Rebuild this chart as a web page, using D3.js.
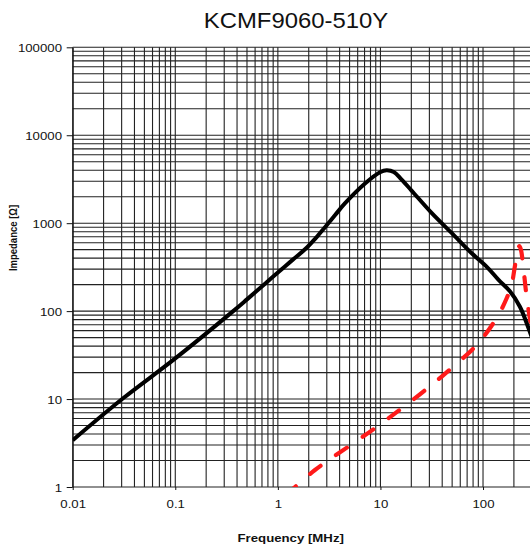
<!DOCTYPE html>
<html><head><meta charset="utf-8">
<script src="https://cdn.jsdelivr.net/npm/d3@7/dist/d3.min.js"></script>
<style>
html,body{margin:0;padding:0;background:#fff;overflow:hidden;}
svg{display:block;font-family:"Liberation Sans",Arial,sans-serif;}
</style></head>
<body>
<svg id="chart" width="530" height="552"></svg>
<script>
// ---- data ----
const title = "KCMF9060-510Y";
const xLabel = "Frequency [MHz]";
const yLabel = "Impedance [\u03A9]";
const xTickValues = [0.01, 0.1, 1, 10, 100];
const xTickLabels = ["0.01", "0.1", "1", "10", "100"];
const yTickValues = [1, 10, 100, 1000, 10000, 100000];
const yTickLabels = ["1", "10", "100", "1000", "10000", "100000"];

// black solid curve: impedance |Z|
const zFreq  = [0.01, 0.031, 0.1, 0.367, 0.5, 0.75, 1.0, 1.4, 1.84, 2.4, 2.88, 3.6, 4.5, 7.07, 9.9, 11.5, 13.5, 16, 20.1, 31.5, 49.4, 77.5, 110, 141, 183, 229, 275, 320];
const zValue = [3.4, 10.2, 29, 100, 136, 205, 275, 385, 505, 700, 900, 1230, 1675, 2826, 3800, 4000, 3820, 3150, 2350, 1310, 775, 455, 315, 228, 168, 112, 66, 40];

// red dashed curve
const rFreq  = [1.2, 1.47, 2.3, 8.8, 27.2, 77.5, 100, 141, 170, 190, 205, 218, 226, 234, 246, 262, 280, 300];
const rValue = [0.82, 1.0, 1.56, 4.65, 12.6, 36, 50, 90, 140, 200, 330, 480, 548, 500, 333, 170, 97, 58];

// ---- scales ----
const x = d3.scaleLog().domain([0.01, 1000]).range([72.7, 585.6]);
const y = d3.scaleLog().domain([1, 100000]).range([487, 47.3]);
const SX = 1.14; // horizontal stretch of the original picture

const svg = d3.select("#chart");

svg.append("defs").append("clipPath").attr("id", "plotclip")
  .append("rect").attr("x", x(0.01)).attr("y", y(100000))
  .attr("width", x(1000) - x(0.01)).attr("height", y(1) - y(100000));

// grid values
const xGrid = [];
[0.01, 0.1, 1, 10, 100].forEach(d => { for (let k = 1; k <= 9; k++) xGrid.push(k * d); });
xGrid.push(1000);
const yGrid = [];
[1, 10, 100, 1000, 10000].forEach(d => { for (let k = 1; k <= 9; k++) yGrid.push(k * d); });
yGrid.push(100000);

const grid = svg.append("g").attr("stroke", "#222").attr("stroke-width", 1.1);
grid.selectAll("line.v").data(xGrid).join("line").attr("class", "v")
  .attr("x1", d => x(d)).attr("x2", d => x(d))
  .attr("y1", y(100000)).attr("y2", y(1));
grid.selectAll("line.h").data(yGrid).join("line").attr("class", "h")
  .attr("x1", x(0.01)).attr("x2", x(1000))
  .attr("y1", d => y(d)).attr("y2", d => y(d));

// axes
const yAxis = svg.append("g").attr("transform", `translate(${x(0.01)},0)`)
  .call(d3.axisLeft(y).tickValues(yTickValues).tickFormat((d, i) => yTickLabels[i]).tickSize(6).tickSizeOuter(0));
yAxis.select(".domain").attr("stroke", "#111");
yAxis.selectAll("line").attr("stroke", "#111");
yAxis.selectAll("text")
  .attr("x", null).attr("dy", null)
  .attr("transform", `translate(-10.7,4.2) scale(${SX},1)`)
  .attr("font-size", 11.6).attr("fill", "#111")
  .attr("font-family", "'Liberation Sans', Arial, sans-serif");

const xAxis = svg.append("g").attr("transform", `translate(0,${y(1)})`)
  .call(d3.axisBottom(x).tickValues(xTickValues).tickFormat((d, i) => xTickLabels[i]).tickSize(3).tickSizeOuter(0));
xAxis.select(".domain").remove();
xAxis.selectAll("line").attr("stroke", "#111");
xAxis.selectAll("text")
  .attr("y", null).attr("dy", null)
  .attr("transform", `translate(0,20.5) scale(${SX},1)`)
  .attr("font-size", 11.6).attr("fill", "#111")
  .attr("font-family", "'Liberation Sans', Arial, sans-serif");

// curves
const plot = svg.append("g").attr("clip-path", "url(#plotclip)");
const zData = zFreq.map((f, i) => [f, zValue[i]]);
const rData = rFreq.map((f, i) => [f, rValue[i]]);
const line = d3.line().x(d => x(d[0])).y(d => y(d[1])).curve(d3.curveCatmullRom.alpha(0.5));

plot.append("path").datum(rData).attr("d", line)
  .attr("fill", "none").attr("stroke", "#ff1a1a").attr("stroke-width", 4.2)
  .attr("stroke-linecap", "round").attr("stroke-dasharray", "13,19");

plot.append("path").datum(zData).attr("d", line)
  .attr("fill", "none").attr("stroke", "#000").attr("stroke-width", 4)
  .attr("stroke-linejoin", "round");

// titles
svg.append("text").attr("transform", `translate(296,28.3) scale(1.11,1)`)
  .attr("text-anchor", "middle").attr("font-size", 21.5).attr("fill", "#111").text(title);
svg.append("text").attr("transform", `translate(290.7,541.7) scale(${SX},1)`)
  .attr("text-anchor", "middle").attr("font-size", 11.6).attr("font-weight", "bold").attr("fill", "#111").text(xLabel);
svg.append("text").attr("transform", `translate(16.5,238) scale(${SX},1) rotate(-90)`)
  .attr("text-anchor", "middle").attr("font-size", 9.5).attr("font-weight", "bold").attr("fill", "#111").text(yLabel);
</script>
</body></html>
